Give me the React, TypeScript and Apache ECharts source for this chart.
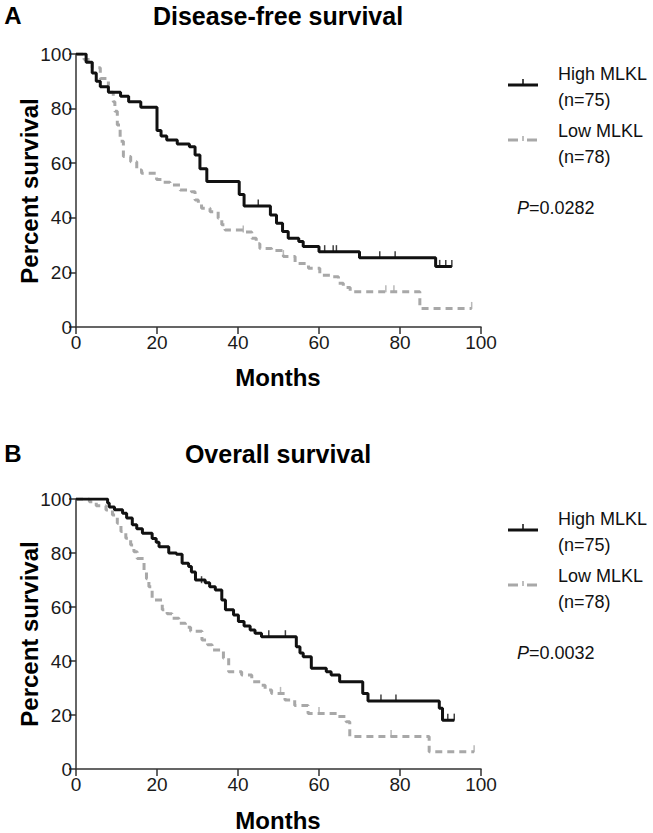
import React, { useEffect, useRef } from "react";
import * as echarts from "echarts";

// Disease-free survival (panel A): [month, percent surviving]
const dfsHigh: [number, number][] = [
  [0, 100], [2.5, 97], [4, 93], [5, 90], [6, 88], [8, 86], [11, 84.5], [13, 82.5], [16, 80.5],
  [20, 72], [21, 70], [22.4, 68.5], [25, 67], [28, 66], [29.4, 63], [30.6, 58], [32.3, 53.3],
  [40.3, 48.5], [41.5, 44.3], [48, 41], [49.5, 38], [51, 35], [52.4, 32.5], [55, 31.3],
  [56.1, 29.5], [60, 27.6], [70, 25.4], [88.8, 22.2], [92.8, 22.2],
];
const dfsLow: [number, number][] = [
  [0, 100], [2, 98], [4, 95], [6, 91], [8, 86], [9.2, 82.5], [9.6, 79], [10.2, 74], [10.9, 68],
  [11.7, 62.5], [13.5, 60.5], [15, 57.5], [16.2, 56.3], [19.9, 54], [21.5, 53], [23.2, 52],
  [25.7, 50.2], [28.5, 49.5], [29.4, 46.5], [30.2, 45], [31, 43.5], [33.1, 42.2], [35.1, 39.8],
  [36, 37.5], [36.8, 35.5], [41.3, 34.8], [43.4, 32.5], [44.5, 30.5], [45.4, 28.8], [48.3, 28],
  [51.2, 25.8], [54.1, 23.3], [57.4, 21.5], [60.2, 19], [62.7, 18.4], [64.8, 16], [66, 14.5],
  [67.7, 12.9], [84.9, 6.8], [97.7, 6.8],
];
const dfsHighCensor: [number, number][] = [
  [45, 44.3], [61.4, 27.6], [63.5, 27.6], [64.3, 27.6], [75, 25.4], [78.8, 25.4],
  [89.8, 22.2], [91.3, 22.2], [92.8, 22.2],
];
const dfsLowCensor: [number, number][] = [[41.3, 34.8], [51.2, 25.8], [76.5, 12.9], [78.5, 12.9], [97.7, 6.8]];

// Overall survival (panel B)
const osHigh: [number, number][] = [
  [0, 100], [7.8, 98.5], [8.2, 97], [9.5, 96], [11.5, 94.7], [12.5, 93], [13.9, 90.5], [15, 89],
  [16.4, 87.3], [18.8, 85.4], [19.8, 84], [20.5, 82.3], [22.9, 80], [24.8, 79.5], [26.2, 76.2],
  [27.8, 75], [28.5, 73], [29.5, 70], [31.9, 69], [33, 67.5], [34.4, 66.3], [36, 62.6], [36.9, 59],
  [38.9, 57], [40.1, 54.6], [41.5, 53], [43, 51.5], [44.2, 50.3], [45.8, 49], [54.4, 45.3],
  [55.3, 43], [56.1, 41.6], [58.1, 37.3], [61.8, 36], [63, 34.8], [65.1, 32.3], [70.8, 28],
  [72.1, 25.2], [89.7, 22.5], [90.5, 18.1], [93.4, 18.1],
];
const osLow: [number, number][] = [
  [0, 100], [3.3, 99], [5, 97.5], [7.4, 95.9], [9, 94.1], [10.2, 91], [11.1, 88], [12.3, 85.5],
  [13.5, 83], [14.3, 80.5], [15.1, 78], [16.8, 73.7], [17.4, 70.5], [18, 67.5], [18.8, 62.6],
  [21.3, 59], [22.5, 57.5], [23.7, 55.8], [25.4, 54], [27, 52.5], [28.3, 51], [31.1, 47.8],
  [32.5, 46], [33.6, 44.1], [36.4, 41], [37.7, 36], [40.9, 34.8], [43.4, 32.3], [45.8, 31],
  [46.7, 29.3], [48.3, 28], [51.6, 25.6], [54, 23.5], [57.3, 20.6], [64.7, 19.4], [66.7, 17.5],
  [67.6, 12], [87.2, 6.4], [98.3, 6.4],
];
const osHighCensor: [number, number][] = [[31, 69], [47.6, 49], [51.7, 49], [75.3, 25.2], [79, 25.2], [91.8, 18.1], [93.4, 18.1]];
const osLowCensor: [number, number][] = [[50.5, 28], [60, 20.6], [77.8, 12], [98.3, 6.4]];

const groupNames = ["High MLKL", "Low MLKL"];
const groupNs = ["(n=75)", "(n=78)"];
const panelLetters = ["A", "B"];
const panelTitles = ["Disease-free survival", "Overall survival"];
const pValues = ["0.0282", "0.0032"];
const xAxisTitle = "Months";
const yAxisTitle = "Percent survival";

const FONT = "'Liberation Sans', Arial, Helvetica, sans-serif";
const BLACK = "#111111";
const GRAY = "#a8a8a8";

export default function App() {
  const ref = useRef<HTMLDivElement>(null);
  useEffect(() => {
    if (!ref.current) return;
    const chart = echarts.init(ref.current, null, { renderer: "svg" });

    const grids = [
      { left: 76, top: 54, width: 405, height: 273 },
      { left: 76, top: 499, width: 405, height: 270 },
    ];
    const headOffset = [0, 438];
    const legOffset = [0, 445];
    const plotOffset = [0, 443];

    const xAxes = grids.map((_, i) => ({
      type: "value",
      gridIndex: i,
      min: 0,
      max: 100,
      interval: 20,
      axisLine: { show: true, lineStyle: { color: "#333", width: 1.5 } },
      axisTick: { show: true, length: 7, lineStyle: { color: "#333", width: 1.5 } },
      axisLabel: { fontSize: 19, color: "#1a1a1a", fontFamily: FONT, margin: 6 },
      splitLine: { show: false },
    }));
    const yAxes = grids.map((_, i) => ({
      type: "value",
      gridIndex: i,
      min: 0,
      max: 100,
      interval: 20,
      axisLine: { show: true, lineStyle: { color: "#333", width: 1.5 } },
      axisTick: { show: true, length: 7, lineStyle: { color: "#333", width: 1.5 } },
      axisLabel: { fontSize: 19, color: "#1a1a1a", fontFamily: FONT, margin: 4 },
      splitLine: { show: false },
    }));

    const curves = [
      [dfsHigh, dfsLow, dfsHighCensor, dfsLowCensor],
      [osHigh, osLow, osHighCensor, osLowCensor],
    ];
    const series: any[] = [];
    curves.forEach((c, i) => {
      series.push({
        type: "line", name: groupNames[1], xAxisIndex: i, yAxisIndex: i, data: c[1], step: "end",
        showSymbol: false, lineStyle: { color: GRAY, width: 3, type: [7, 5] }, z: 2,
      });
      series.push({
        type: "line", name: groupNames[0], xAxisIndex: i, yAxisIndex: i, data: c[0], step: "end",
        showSymbol: false, lineStyle: { color: BLACK, width: 3 }, z: 3,
      });
      series.push({
        type: "scatter", xAxisIndex: i, yAxisIndex: i, data: c[3], symbol: "rect",
        symbolSize: [1.5, 7], symbolOffset: [0, -3], itemStyle: { color: GRAY }, z: 2,
      });
      series.push({
        type: "scatter", xAxisIndex: i, yAxisIndex: i, data: c[2], symbol: "rect",
        symbolSize: [1.5, 7], symbolOffset: [0, -3], itemStyle: { color: BLACK }, z: 3,
      });
    });

    const graphic: any[] = [];
    [0, 1].forEach((i) => {
      const h = headOffset[i];
      const l = legOffset[i];
      const p = plotOffset[i];
      graphic.push({
        type: "text", x: 13, y: 15 + h,
        style: { text: panelLetters[i], font: `bold 24px ${FONT}`, fill: "#000", textAlign: "center", textVerticalAlign: "middle" },
      });
      graphic.push({
        type: "text", x: 278, y: 16 + h,
        style: { text: panelTitles[i], font: `bold 25px ${FONT}`, fill: "#000", textAlign: "center", textVerticalAlign: "middle" },
      });
      graphic.push({
        type: "text", x: 29, y: 191 + p, rotation: Math.PI / 2,
        style: { text: yAxisTitle, font: `bold 24px ${FONT}`, fill: "#000", textAlign: "center", textVerticalAlign: "middle" },
      });
      graphic.push({
        type: "text", x: 278, y: 377 + p,
        style: { text: xAxisTitle, font: `bold 24px ${FONT}`, fill: "#000", textAlign: "center", textVerticalAlign: "middle" },
      });
      // legend: high
      graphic.push({ type: "line", shape: { x1: 508, y1: 85 + l, x2: 538, y2: 85 + l }, style: { stroke: BLACK, lineWidth: 3 } });
      graphic.push({ type: "line", shape: { x1: 523, y1: 85 + l, x2: 523, y2: 79 + l }, style: { stroke: BLACK, lineWidth: 1.5 } });
      // legend: low
      graphic.push({ type: "line", shape: { x1: 508, y1: 140 + l, x2: 518, y2: 140 + l }, style: { stroke: GRAY, lineWidth: 3 } });
      graphic.push({ type: "line", shape: { x1: 523, y1: 141 + l, x2: 523, y2: 136 + l }, style: { stroke: GRAY, lineWidth: 1.5 } });
      graphic.push({ type: "line", shape: { x1: 527, y1: 140 + l, x2: 537, y2: 140 + l }, style: { stroke: GRAY, lineWidth: 3 } });
      [[groupNames[0], 74], [groupNs[0], 100], [groupNames[1], 131], [groupNs[1], 157]].forEach(([t, y]) => {
        graphic.push({
          type: "text", x: 558, y: (y as number) + l,
          style: { text: t, font: `18px ${FONT}`, fill: "#111", textAlign: "left", textVerticalAlign: "middle" },
        });
      });
      graphic.push({
        type: "text", x: 517, y: 208 + l,
        style: {
          text: `{i|P}=${pValues[i]}`, font: `18px ${FONT}`, fill: "#111", textAlign: "left", textVerticalAlign: "middle",
          rich: { i: { fontStyle: "italic", fontSize: 18, fontFamily: FONT, fill: "#111" } },
        },
      });
    });

    chart.setOption({
      animation: false,
      backgroundColor: "#ffffff",
      grid: grids,
      xAxis: xAxes,
      yAxis: yAxes,
      series,
      graphic,
    });
    return () => chart.dispose();
  }, []);

  return <div ref={ref} style={{ position: "absolute", left: 0, top: 0, width: 653, height: 833 }} />;
}
